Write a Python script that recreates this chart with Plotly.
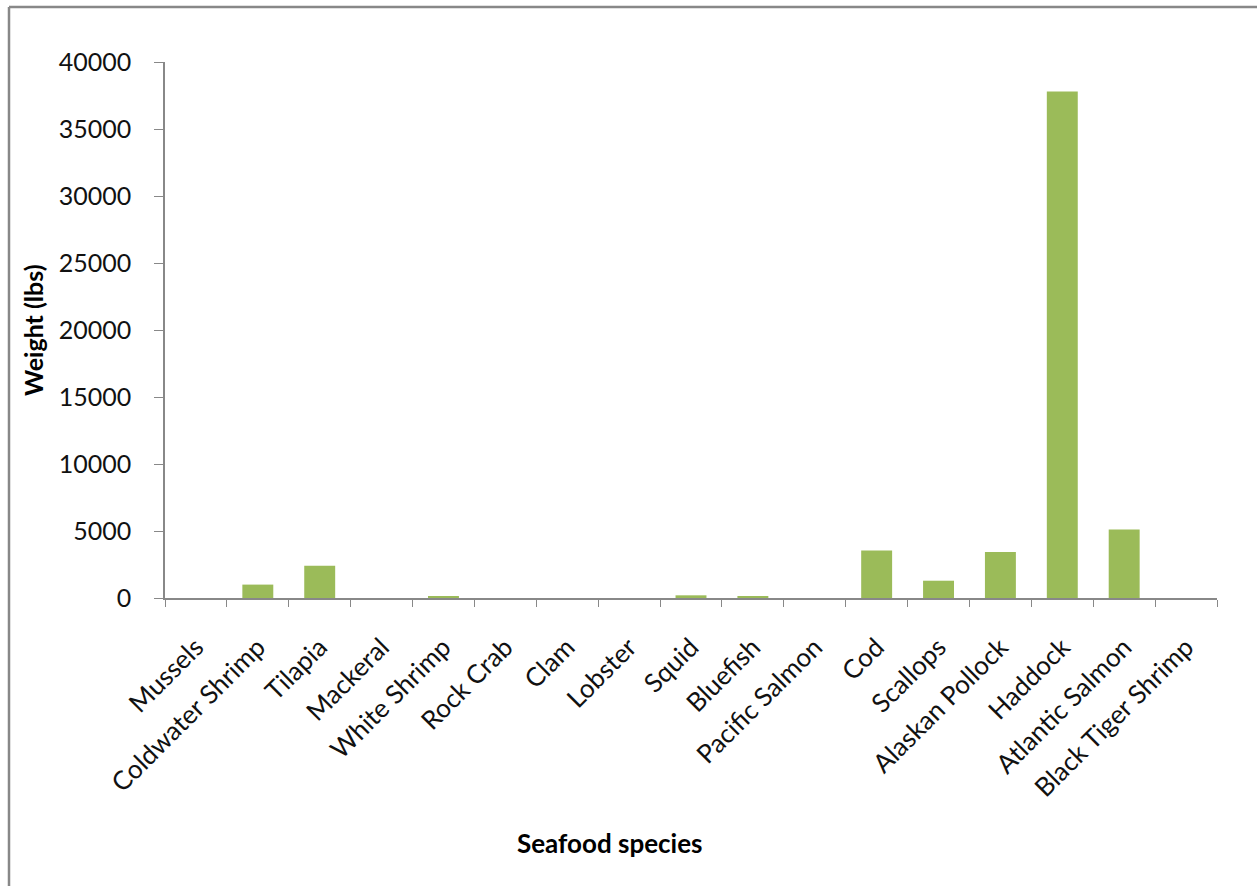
import plotly.graph_objects as go

species = ["Mussels", "Coldwater Shrimp", "Tilapia", "Mackeral", "White Shrimp", "Rock Crab",
           "Clam", "Lobster", "Squid", "Bluefish", "Pacific Salmon", "Cod", "Scallops",
           "Alaskan Pollock", "Haddock", "Atlantic Salmon", "Black Tiger Shrimp"]
weights = [0, 1000, 2400, 0, 120, 0, 0, 0, 200, 120, 0, 3550, 1290, 3440, 37800, 5110, 0]
y_ticks = [0, 5000, 10000, 15000, 20000, 25000, 30000, 35000, 40000]

W, H = 1257, 886
L, R, T, B = 165, 1217, 62, 598

fig = go.Figure(go.Bar(x=species, y=weights, marker=dict(color="#9BBB59", line=dict(width=0))))

font = "Lato, Open Sans, sans-serif"
fig.update_layout(
    width=W, height=H,
    margin=dict(l=L, r=W - R, t=T, b=H - B),
    plot_bgcolor="white", paper_bgcolor="white",
    bargap=0.5, showlegend=False,
    font=dict(family=font, color="#000000"),
    xaxis=dict(
        tickangle=-45, tickfont=dict(size=26, family=font, color="#111"),
        showline=True, linecolor="#888", linewidth=1.5,
        ticks="outside", ticklen=7, tickcolor="#888", tickson="boundaries",
        showgrid=False, zeroline=False, ticklabelstandoff=22,
    ),
    yaxis=dict(
        range=[0, 40000], tickvals=y_ticks, ticktext=[str(v) for v in y_ticks],
        tickfont=dict(size=25, family=font, color="#111"),
        showline=True, linecolor="#888", linewidth=1.5,
        ticks="outside", ticklen=9, tickcolor="#888",
        showgrid=False, zeroline=False, ticklabelstandoff=18,
    ),
    annotations=[
        dict(text="<b>Seafood species</b>", xref="paper", yref="paper",
             x=(610 - L) / (R - L), y=(B - 843) / (B - T), showarrow=False,
             xanchor="center", yanchor="middle",
             font=dict(size=26, family=font, color="#000")),
        dict(text="<b>Weight (lbs)</b>", xref="paper", yref="paper",
             x=(33 - L) / (R - L), y=(B - 330) / (B - T), textangle=-90, showarrow=False,
             xanchor="center", yanchor="middle",
             font=dict(size=25, family=font, color="#000")),
    ],
    shapes=[
        dict(type="line", xref="paper", yref="paper",
             x0=(9 - L) / (R - L), x1=(1300 - L) / (R - L),
             y0=(B - 7) / (B - T), y1=(B - 7) / (B - T),
             line=dict(color="#888", width=2.5)),
        dict(type="line", xref="paper", yref="paper",
             x0=(9 - L) / (R - L), x1=(9 - L) / (R - L),
             y0=(B - 7) / (B - T), y1=(B - 950) / (B - T),
             line=dict(color="#888", width=2.5)),
    ],
)

fig.write_html("out.html")
